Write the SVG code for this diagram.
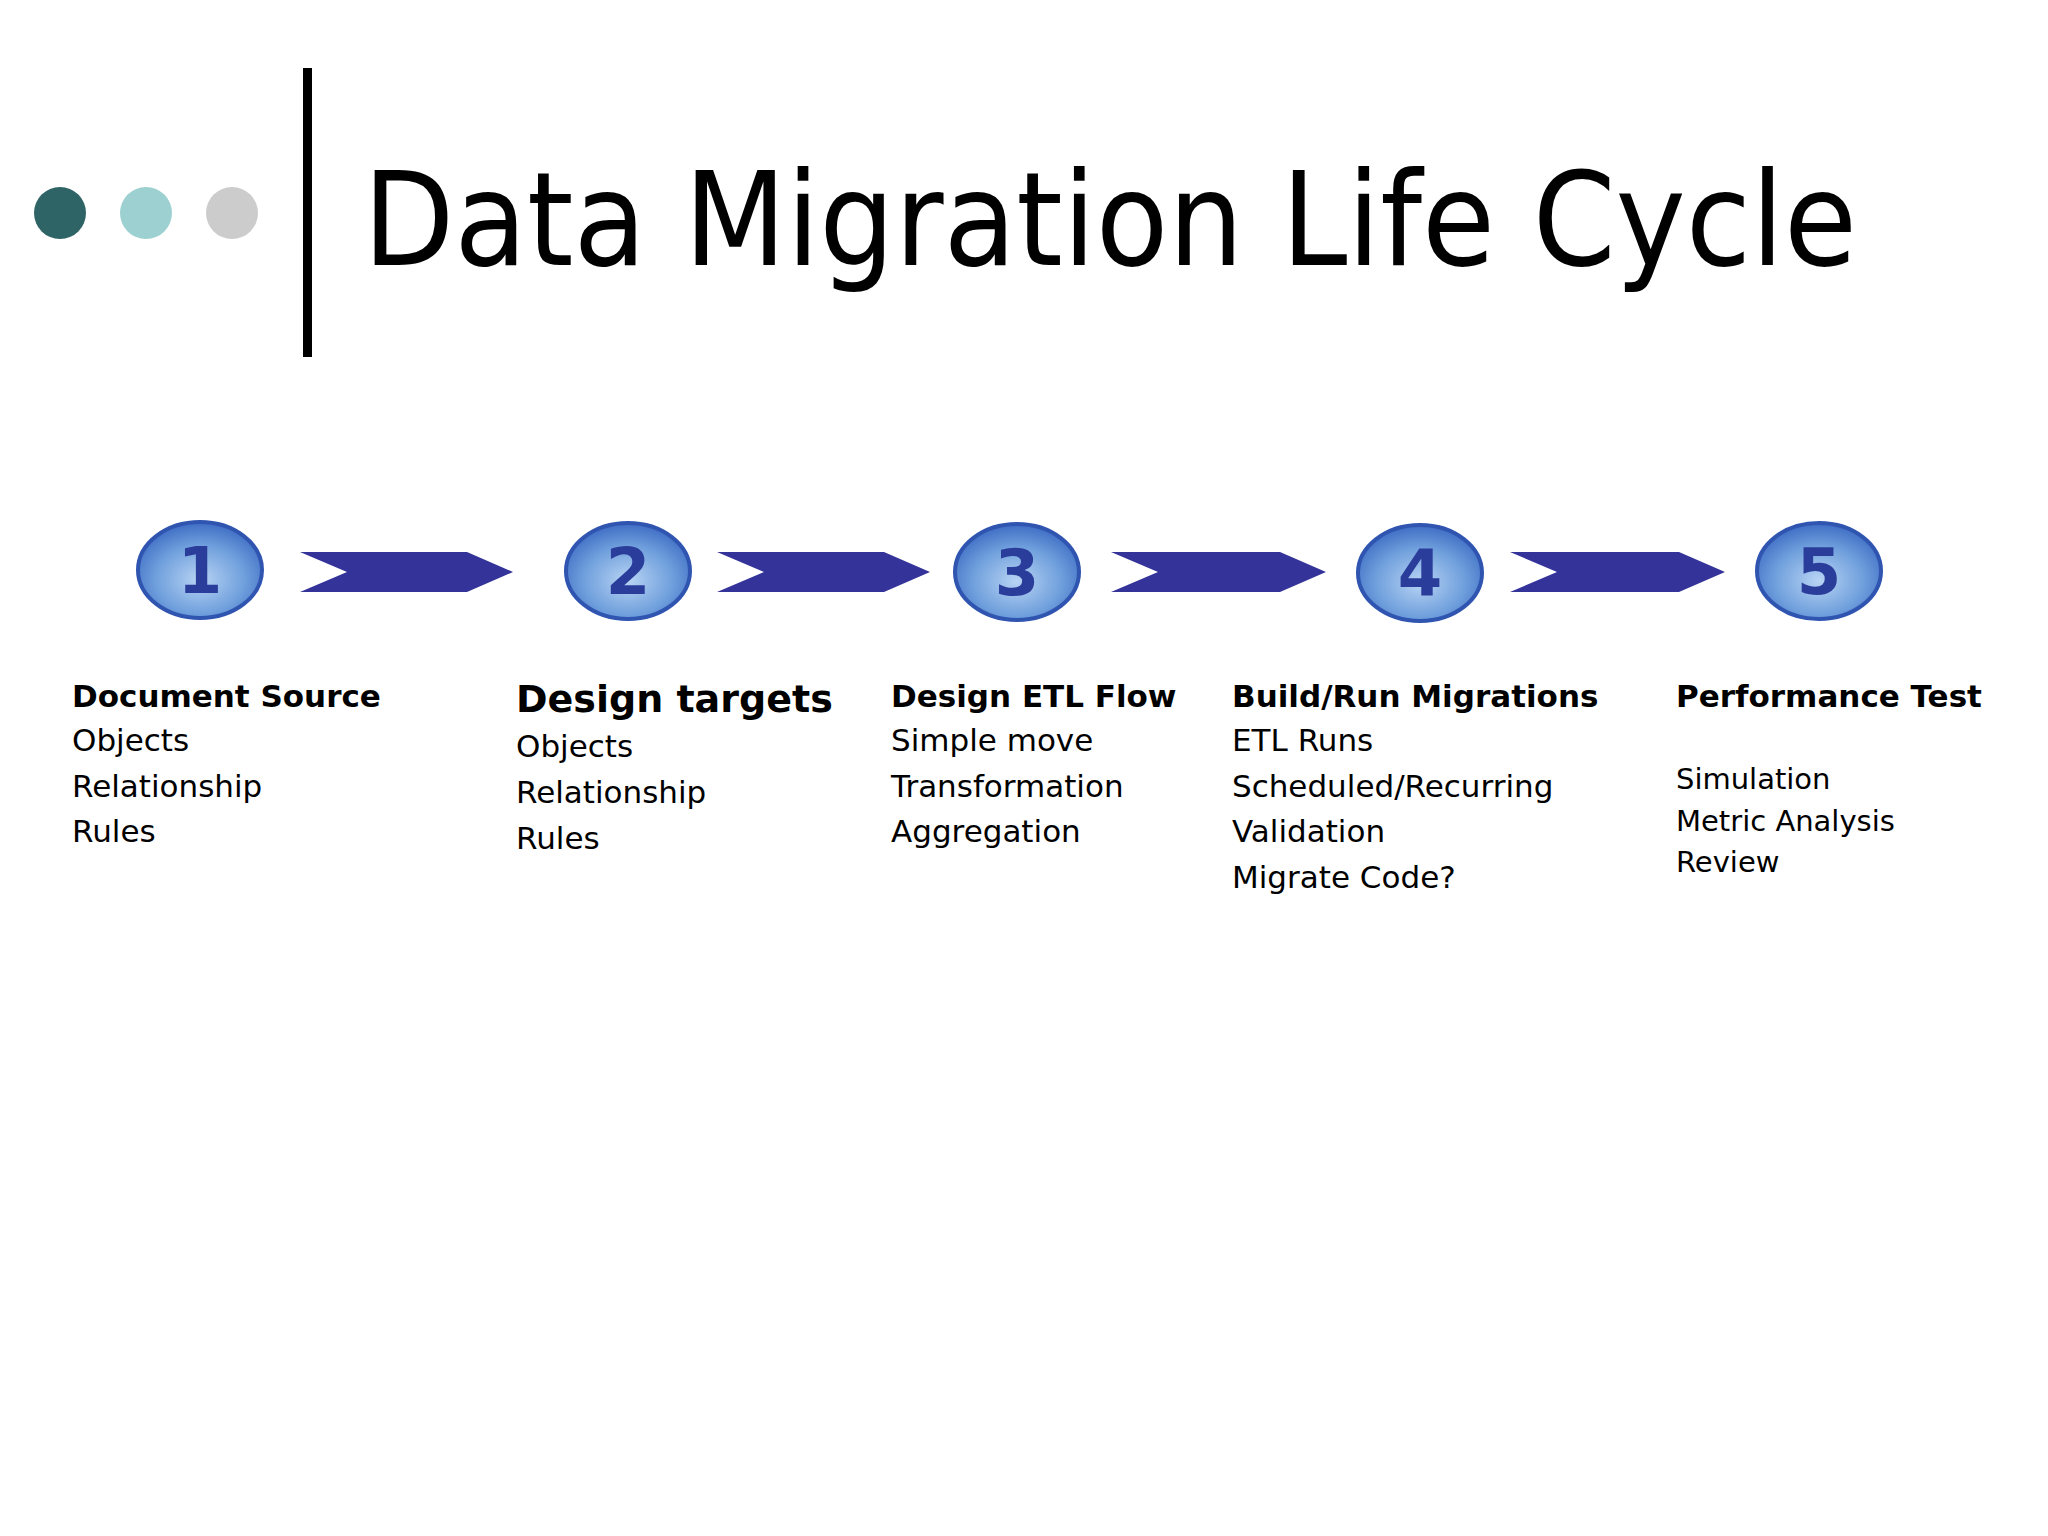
<svg xmlns="http://www.w3.org/2000/svg" width="2048" height="1536" viewBox="0 0 2048 1536">
<defs>
<radialGradient id="g" cx="0.5" cy="0.6" r="0.6">
<stop offset="0" stop-color="#b8d4f4"/><stop offset="0.6" stop-color="#6f9fdc"/><stop offset="1" stop-color="#3e6cc4"/>
</radialGradient>
<style>
text{font-family:"DejaVu Sans",Verdana,sans-serif;fill:#000}
.h{font-weight:bold;font-size:31px}
.t{font-size:31px}
.s{font-size:29px}
.n{font-weight:bold;font-size:64px;fill:#2a3d9a;text-anchor:middle}
.ar{fill:#333399}
.c{fill:url(#g);stroke:#2f55b0;stroke-width:4}
</style>
</defs>
<rect width="2048" height="1536" fill="#fff"/>
<circle cx="60" cy="213" r="26" fill="#2f6466"/>
<circle cx="146" cy="213" r="26" fill="#9dd0d0"/>
<circle cx="232" cy="213" r="26" fill="#cccccc"/>
<rect x="303" y="68" width="9" height="289" fill="#000"/>
<text x="363" y="265" font-size="130" textLength="1494" lengthAdjust="spacingAndGlyphs">Data Migration Life Cycle</text>
<g id="connectors">
<polygon class="ar" points="300,552 467,552 513,572 467,592 300,592 347,572"/>
<polygon class="ar" points="717,552 884,552 930,572 884,592 717,592 764,572"/>
<polygon class="ar" points="1111,552 1280,552 1326,572 1280,592 1111,592 1158,572"/>
<polygon class="ar" points="1510,552 1679,552 1725,572 1679,592 1510,592 1557,572"/>
</g>
<g id="n1"><ellipse class="c" cx="200" cy="570" rx="62" ry="48"/><text class="n" x="200" y="593">1</text>
<text class="h" x="72" y="707">Document Source</text><text class="t" x="72" y="751">Objects</text><text class="t" x="72" y="797">Relationship</text><text class="t" x="72" y="842">Rules</text></g>
<g id="n2"><ellipse class="c" cx="628" cy="571" rx="62" ry="48"/><text class="n" x="628" y="594">2</text>
<text class="h" x="516" y="712" style="font-size:38px">Design targets</text><text class="t" x="516" y="757">Objects</text><text class="t" x="516" y="803">Relationship</text><text class="t" x="516" y="849">Rules</text></g>
<g id="n3"><ellipse class="c" cx="1017" cy="572" rx="62" ry="48"/><text class="n" x="1017" y="595">3</text>
<text class="h" x="891" y="707">Design ETL Flow</text><text class="t" x="891" y="751">Simple move</text><text class="t" x="891" y="797">Transformation</text><text class="t" x="891" y="842">Aggregation</text></g>
<g id="n4"><ellipse class="c" cx="1420" cy="573" rx="62" ry="48"/><text class="n" x="1420" y="596">4</text>
<text class="h" x="1232" y="707">Build/Run Migrations</text><text class="t" x="1232" y="751">ETL Runs</text><text class="t" x="1232" y="797">Scheduled/Recurring</text><text class="t" x="1232" y="842">Validation</text><text class="t" x="1232" y="888">Migrate Code?</text></g>
<g id="n5"><ellipse class="c" cx="1819" cy="571" rx="62" ry="48"/><text class="n" x="1819" y="594">5</text>
<text class="h" x="1676" y="707">Performance Test</text><text class="s" x="1676" y="789">Simulation</text><text class="s" x="1676" y="831">Metric Analysis</text><text class="s" x="1676" y="872">Review</text></g>
</svg>
